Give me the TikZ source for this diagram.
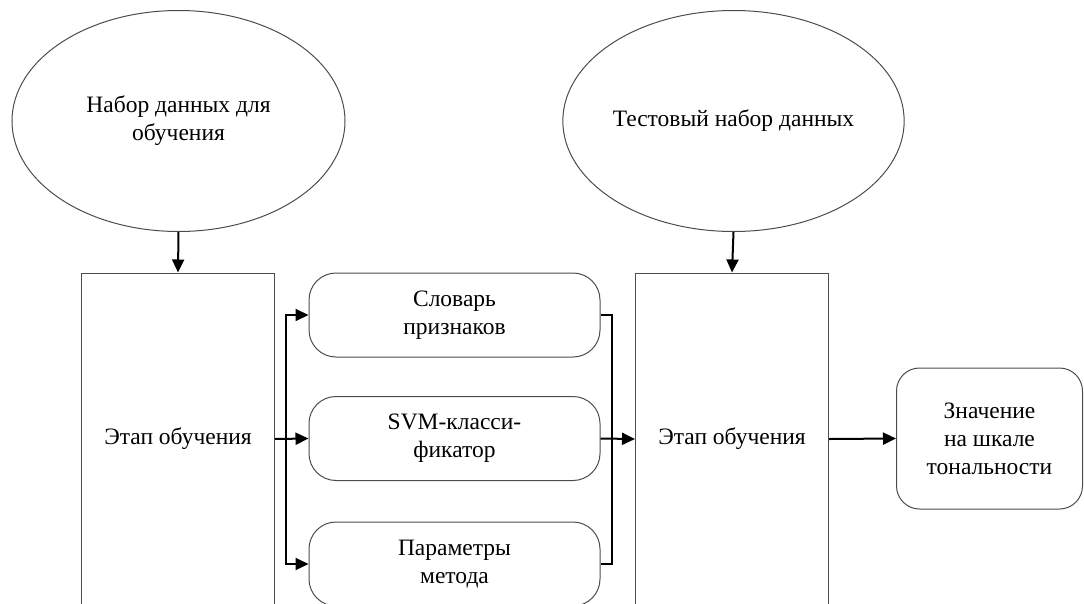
\documentclass[tikz,border=0pt]{standalone}
\usepackage{fontspec}
\setmainfont{Liberation Serif}
\usetikzlibrary{shapes.geometric,arrows.meta}
\begin{document}
\begin{tikzpicture}[x=1pt,y=-1pt,
  every node/.style={font=\fontsize{23.5}{28}\selectfont, align=center, inner sep=0pt},
  ell/.style={ellipse, draw=black!70, line width=1pt, minimum width=333pt, minimum height=221pt},
  stage/.style={rectangle, draw=black!70, line width=1pt, minimum width=193pt, minimum height=332pt},
  rbox/.style={rectangle, rounded corners=27pt, draw=black!70, line width=1pt, minimum width=291pt, minimum height=84pt},
  rres/.style={rectangle, rounded corners=23pt, draw=black!70, line width=1pt, minimum width=186pt, minimum height=141pt},
  arr/.style={draw=black, line width=2pt, -{Triangle[length=13pt,width=12pt]}},
  ln/.style={draw=black, line width=2pt}]
\useasboundingbox (0,0) rectangle (1084,603);
\clip (0,0) rectangle (1084,603);
\node[ell] (e1) at (178.5,121) {Набор данных для\\обучения};
\node[ell] (e2) at (733.5,121) {Тестовый набор данных};
\node[stage] (b1) at (178,439) {Этап обучения};
\node[stage] (b2) at (732,439) {Этап обучения};
\node[rbox] (s1) at (454.5,315) {Словарь\\признаков};
\node[rbox] (s2) at (454.5,438.5) {SVM-класси-\\фикатор};
\node[rbox] (s3) at (454.5,564) {Параметры\\метода};
\node[rres] (r) at (989.5,438.5) {Значение\\на шкале\\тональности};
\coordinate (f1) at (286,439);
\coordinate (f2) at (612,439);
\draw[arr] (e1.south) -- (b1.north);
\draw[arr] (e2.south) -- (b2.north);
\draw[arr] (b1.east) -- (s2.west);
\draw[arr] (f1) |- (s1.west);
\draw[arr] (f1) |- (s3.west);
\draw[ln] (s1.east) -| (f2 |- s3.east) -- (s3.east);
\draw[arr] (s2.east) -- (b2.west);
\draw[arr] (b2.east) -- (r.west);
\end{tikzpicture}
\end{document}
